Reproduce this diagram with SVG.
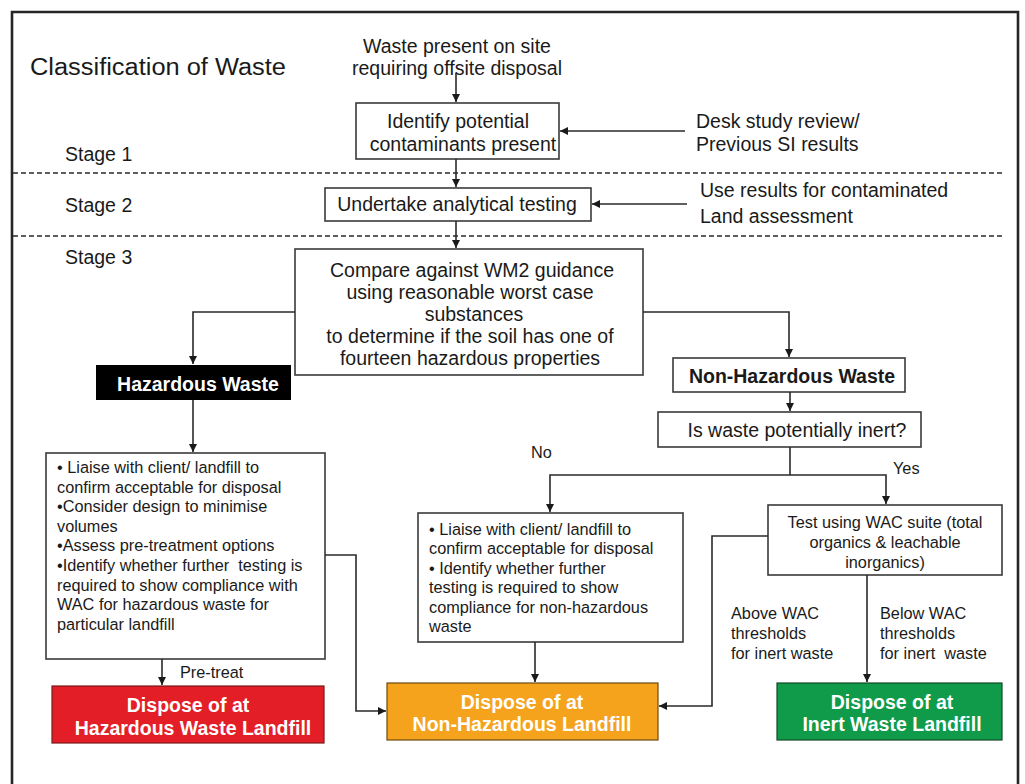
<svg xmlns="http://www.w3.org/2000/svg" width="1025" height="784" viewBox="0 0 1025 784">
<style>
text{font-family:"Liberation Sans",Arial,sans-serif;fill:#1a1a1a;white-space:pre}
.t19{font-size:19.5px}
.t16{font-size:16.3px}
.c{text-anchor:middle}
.b{font-weight:bold}
.w{fill:#ffffff}
.box{fill:#ffffff;stroke:#3a3a3a;stroke-width:1.6}
.ln{fill:none;stroke:#2a2a2a;stroke-width:1.6}
.dash{fill:none;stroke:#2a2a2a;stroke-width:1.5;stroke-dasharray:5 3}
</style>
<defs>
<marker id="ah" markerUnits="userSpaceOnUse" markerWidth="10" markerHeight="10" refX="8" refY="4" orient="auto">
<path d="M0,0 L8,4 L0,8 Z" fill="#1a1a1a"/>
</marker>
</defs>
<rect width="1025" height="784" fill="#ffffff"/>
<path d="M12,790 V12 H1018 V790" fill="none" stroke="#262626" stroke-width="2.6"/>
<g id="title"><text x="30" y="75" style="font-size:23.5px" textLength="256" lengthAdjust="spacingAndGlyphs">Classification of Waste</text></g>
<g id="stages" class="t19">
<text x="65" y="161">Stage 1</text>
<text x="65" y="212">Stage 2</text>
<text x="65" y="264">Stage 3</text>
</g>
<g id="dividers">
<line class="dash" x1="13" y1="173" x2="1005" y2="173"/>
<line class="dash" x1="13" y1="236" x2="1005" y2="236"/>
</g>
<g id="start" class="t19"><text x="457" y="53" class="c">Waste present on site</text><text x="457" y="75" class="c">requiring offsite disposal</text></g>
<g id="identify"><rect class="box" x="356" y="103" width="203" height="56"/><text class="t19 c" x="458" y="128">Identify potential</text><text class="t19 c" x="463" y="151">contaminants present</text></g>
<g id="desk" class="t19"><text x="696" y="128">Desk study review/</text><text x="696" y="151">Previous SI results</text></g>
<g id="testing"><rect class="box" x="325" y="188" width="266" height="33"/><text class="t19 c" x="457" y="211">Undertake analytical testing</text></g>
<g id="useresults" class="t19"><text x="700" y="197">Use results for contaminated</text><text x="700" y="223">Land assessment</text></g>
<g id="compare"><rect class="box" x="295" y="249" width="348" height="126"/>
<text class="t19 c" x="472" y="277">Compare against WM2 guidance</text>
<text class="t19 c" x="470" y="299">using reasonable worst case</text>
<text class="t19 c" x="474" y="321">substances</text>
<text class="t19 c" x="470" y="343">to determine if the soil has one of</text>
<text class="t19 c" x="470" y="365">fourteen hazardous properties</text></g>
<g id="hazardous"><rect x="96" y="365" width="195" height="35" fill="#000000"/><text class="t19 c b w" x="198" y="391">Hazardous Waste</text></g>
<g id="nonhazardous"><rect class="box" x="673" y="358" width="232" height="34"/><text class="t19 c b" x="792" y="383">Non-Hazardous Waste</text></g>
<g id="inert-q"><rect class="box" x="658" y="412" width="263" height="35"/><text class="t19 c" x="797" y="437">Is waste potentially inert?</text></g>
<g id="haz-actions"><rect class="box" x="46" y="453" width="279" height="206"/>
<text class="t16" x="57" y="473">• Liaise with client/ landfill to</text>
<text class="t16" x="57" y="493">confirm acceptable for disposal</text>
<text class="t16" x="57" y="512">•Consider design to minimise</text>
<text class="t16" x="57" y="532">volumes</text>
<text class="t16" x="57" y="551">•Assess pre-treatment options</text>
<text class="t16" x="57" y="571">•Identify whether further  testing is</text>
<text class="t16" x="57" y="591">required to show compliance with</text>
<text class="t16" x="57" y="610">WAC for hazardous waste for</text>
<text class="t16" x="57" y="630">particular landfill</text></g>
<g id="nonhaz-actions"><rect class="box" x="418" y="513" width="265" height="129"/>
<text class="t16" x="429" y="535">• Liaise with client/ landfill to</text>
<text class="t16" x="429" y="554">confirm acceptable for disposal</text>
<text class="t16" x="429" y="574">• Identify whether further</text>
<text class="t16" x="429" y="593">testing is required to show</text>
<text class="t16" x="429" y="613">compliance for non-hazardous</text>
<text class="t16" x="429" y="632">waste</text></g>
<g id="wac-test"><rect class="box" x="768" y="505" width="234" height="70"/>
<text class="t16 c" x="885" y="528">Test using WAC suite (total</text>
<text class="t16 c" x="885" y="548">organics &amp; leachable</text>
<text class="t16 c" x="885" y="568">inorganics)</text></g>
<g id="labels" class="t16">
<text x="531" y="458">No</text>
<text x="893" y="474">Yes</text>
<text x="180" y="678">Pre-treat</text>
<text x="731" y="619">Above WAC</text>
<text x="731" y="639">thresholds</text>
<text x="731" y="659">for inert waste</text>
<text x="880" y="619">Below WAC</text>
<text x="880" y="639">thresholds</text>
<text x="880" y="659">for inert  waste</text>
</g>
<g id="haz-landfill"><rect x="52" y="686" width="272" height="57" fill="#e41e26" stroke="#7a1a1a" stroke-width="1.2"/><text class="t19 c b w" x="188" y="712">Dispose of at</text><text class="t19 c b w" x="193" y="735">Hazardous Waste Landfill</text></g>
<g id="nonhaz-landfill"><rect x="387" y="683" width="271" height="57" fill="#f5a31c" stroke="#6b4a10" stroke-width="1.2"/><text class="t19 c b w" x="522" y="709">Dispose of at</text><text class="t19 c b w" x="522" y="731">Non-Hazardous Landfill</text></g>
<g id="inert-landfill"><rect x="777" y="683" width="225" height="57" fill="#0f9b4a" stroke="#134a26" stroke-width="1.2"/><text class="t19 c b w" x="892" y="709">Dispose of at</text><text class="t19 c b w" x="892" y="731">Inert Waste Landfill</text></g>
<g id="connectors">
<path class="ln" d="M456,73 V102" marker-end="url(#ah)"/>
<path class="ln" d="M685,131 H560" marker-end="url(#ah)"/>
<path class="ln" d="M456,159 V187" marker-end="url(#ah)"/>
<path class="ln" d="M687,204 H592" marker-end="url(#ah)"/>
<path class="ln" d="M456,221 V248" marker-end="url(#ah)"/>
<path class="ln" d="M295,312 H193 V364" marker-end="url(#ah)"/>
<path class="ln" d="M643,312 H789 V357" marker-end="url(#ah)"/>
<path class="ln" d="M790,392 V411" marker-end="url(#ah)"/>
<path class="ln" d="M790,447 V475"/>
<path class="ln" d="M790,475 H550 V512" marker-end="url(#ah)"/>
<path class="ln" d="M790,475 H886 V504" marker-end="url(#ah)"/>
<path class="ln" d="M193,400 V452" marker-end="url(#ah)"/>
<path class="ln" d="M162,659 V685" marker-end="url(#ah)"/>
<path class="ln" d="M325,555 H356 V711 H386" marker-end="url(#ah)"/>
<path class="ln" d="M535,642 V682" marker-end="url(#ah)"/>
<path class="ln" d="M768,536 H712 V706 H659" marker-end="url(#ah)"/>
<path class="ln" d="M867,575 V682" marker-end="url(#ah)"/>
</g>
</svg>
